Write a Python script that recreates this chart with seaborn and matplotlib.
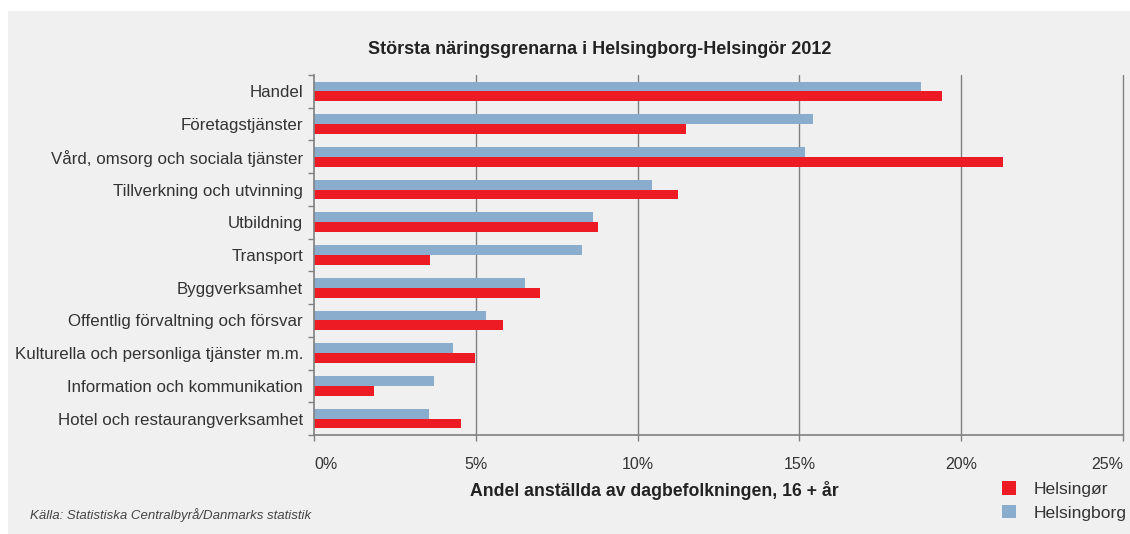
import pandas as pd
import matplotlib.pyplot as plt
import seaborn as sns
from matplotlib.patches import Patch, Rectangle
from matplotlib.ticker import FixedLocator

# Data (andel anställda av dagbefolkningen, %)
kategorier = [
    "Handel",
    "Företagstjänster",
    "Vård, omsorg och sociala tjänster",
    "Tillverkning och utvinning",
    "Utbildning",
    "Transport",
    "Byggverksamhet",
    "Offentlig förvaltning och försvar",
    "Kulturella och personliga tjänster m.m.",
    "Information och kommunikation",
    "Hotel och restaurangverksamhet",
]
helsingborg = [18.75, 15.41, 15.17, 10.44, 8.61, 8.27, 6.53, 5.30, 4.28, 3.72, 3.54]
helsingor = [19.40, 11.49, 21.29, 11.26, 8.79, 3.57, 6.97, 5.85, 4.96, 1.86, 4.53]
x_ticks = [0, 5, 10, 15, 20, 25]
x_ticklabels = ["0%", "5%", "10%", "15%", "20%", "25%"]

RED = "#ED1C24"
BLUE = "#8AADCD"
BG = "#F0F0F0"
GRID = "#808080"
TEXT = "#333333"

df = pd.DataFrame({
    "kategori": kategorier * 2,
    "andel": helsingborg + helsingor,
    "ort": ["Helsingborg"] * len(kategorier) + ["Helsingør"] * len(kategorier),
})

sns.set_theme(style="white")
plt.rcParams["font.family"] = ["Liberation Sans", "DejaVu Sans"]

fig = plt.figure(figsize=(11.3, 5.34), dpi=100)
fig.patch.set_facecolor("white")
fig.patches.append(Rectangle((8 / 1130, 0), 1 - 8 / 1130, 1 - 11 / 534,
                             transform=fig.transFigure, facecolor=BG,
                             edgecolor="none", zorder=-10))

ax = fig.add_axes([314 / 1130, 1 - 435 / 534, (1123 - 314) / 1130, 360 / 534])
ax.set_facecolor(BG)

sns.barplot(data=df, y="kategori", x="andel", hue="ort",
            hue_order=["Helsingborg", "Helsingør"],
            palette=[BLUE, RED], width=0.6, orient="h",
            saturation=1, linewidth=0, legend=False, ax=ax)

ax.set_xlim(0, 25)
ax.set_ylim(10.5, -0.5)
ax.set_xticks(x_ticks)
ax.set_xticklabels(x_ticklabels)
ax.set_xlabel("")
ax.set_ylabel("")

tl = ax.get_xticklabels()
tl[0].set_horizontalalignment("left")
tl[-1].set_horizontalalignment("right")

for x in x_ticks[1:]:
    ax.axvline(x, color=GRID, lw=1, zorder=0, clip_on=False)

for side in ["top", "right"]:
    ax.spines[side].set_visible(False)
for side in ["left", "bottom"]:
    ax.spines[side].set_color(GRID)
    ax.spines[side].set_linewidth(1.2)

ax.yaxis.set_minor_locator(FixedLocator([i - 0.5 for i in range(len(kategorier) + 1)]))
ax.tick_params(axis="y", which="major", length=0, pad=8, labelsize=12.2, labelcolor=TEXT)
ax.tick_params(axis="y", which="minor", left=True, length=4, width=1, color=GRID)
ax.tick_params(axis="x", which="major", bottom=True, length=4, width=1, color=GRID,
               pad=12, labelsize=11.5, labelcolor=TEXT)

fig.text(600 / 1130, 1 - 50 / 534, "Största näringsgrenarna i Helsingborg-Helsingör 2012",
         ha="center", va="center", fontsize=13, fontweight="bold", color="#222222")
fig.text(654 / 1130, 1 - 490 / 534, "Andel anställda av dagbefolkningen, 16 + år",
         ha="center", va="center", fontsize=12.7, fontweight="bold", color="#222222")
fig.text(30 / 1130, 1 - 515 / 534, "Källa: Statistiska Centralbyrå/Danmarks statistik",
         ha="left", va="center", fontsize=9.5, style="italic", color="#444444")

handles = [Patch(facecolor=RED, edgecolor="none", label="Helsingør"),
           Patch(facecolor=BLUE, edgecolor="none", label="Helsingborg")]
leg = fig.legend(handles=handles, loc="center left",
                 bbox_to_anchor=(990 / 1130, 1 - 501 / 534), frameon=False,
                 fontsize=12.6, handlelength=0.8, handleheight=0.8,
                 handletextpad=1.0, labelspacing=0.45, borderpad=0.2)
for t in leg.get_texts():
    t.set_color(TEXT)

fig.savefig("out.png", dpi=100)
